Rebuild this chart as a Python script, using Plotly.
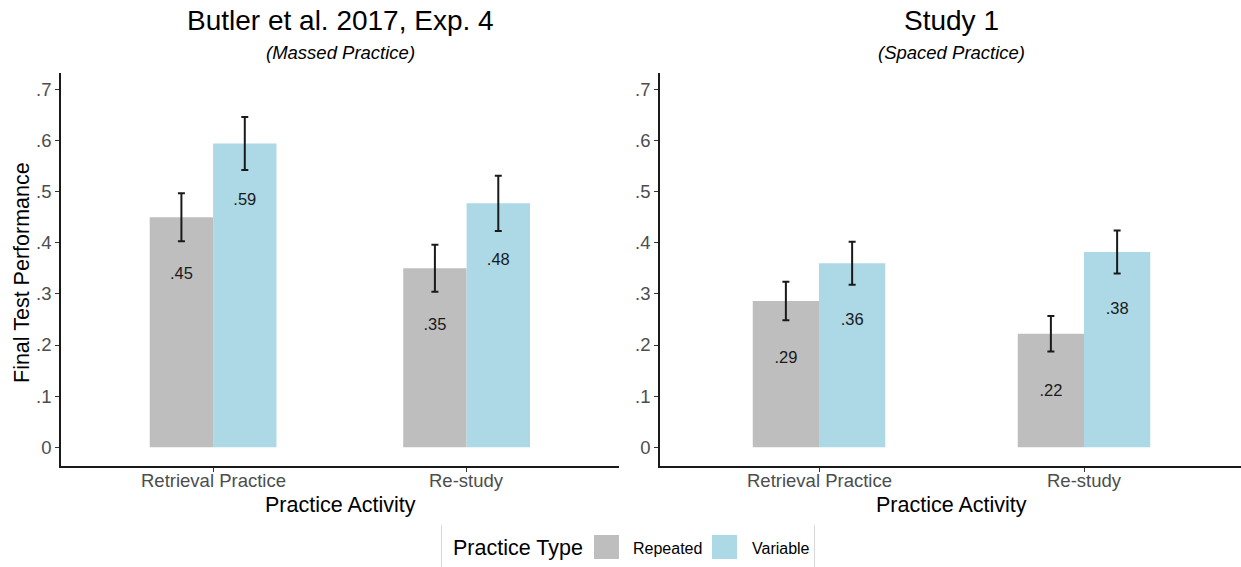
import plotly.graph_objects as go

# ---- data ----
activities = ["Retrieval Practice", "Re-study"]
practice_types = ["Repeated", "Variable"]

butler_repeated = [0.450, 0.350]
butler_variable = [0.594, 0.477]
butler_repeated_se = [0.047, 0.046]
butler_variable_se = [0.052, 0.054]

study1_repeated = [0.286, 0.222]
study1_variable = [0.360, 0.382]
study1_repeated_se = [0.0375, 0.0345]
study1_variable_se = [0.042, 0.042]

y_ticks = [0, 0.1, 0.2, 0.3, 0.4, 0.5, 0.6, 0.7]

# ---- styling ----
W, H = 1241, 567
FONT = "Liberation Sans, Arial, Helvetica, sans-serif"
COLORS = {"Repeated": "#bebebe", "Variable": "#add8e6"}
DODGE = 0.125
BAR_W = 0.25
LABEL_DROP = 0.113


def px_x(p):
    return p / W


def px_y(p):
    return 1 - p / H


def fmt(v):
    s = f"{v:.2f}" if v else "0"
    return s[1:] if s.startswith("0.") else s


def tick_fmt(v):
    return "0" if v == 0 else f"{v:.1f}".lstrip("0")


fig = go.Figure()

panels = [
    ("x", "y", butler_repeated, butler_variable, butler_repeated_se, butler_variable_se),
    ("x2", "y2", study1_repeated, study1_variable, study1_repeated_se, study1_variable_se),
]

for xa, ya, rep, var, rep_se, var_se in panels:
    for name, vals, se, off in [("Repeated", rep, rep_se, -DODGE), ("Variable", var, var_se, DODGE)]:
        xs = [i + 1 + off for i in range(len(activities))]
        fig.add_trace(go.Bar(
            x=xs, y=vals, width=BAR_W, xaxis=xa, yaxis=ya,
            marker=dict(color=COLORS[name], line=dict(width=0)),
            error_y=dict(type="data", array=se, color="#1a1a1a", thickness=2, width=3.5),
            showlegend=False, hoverinfo="skip",
        ))
        fig.add_trace(go.Scatter(
            x=xs, y=[v - LABEL_DROP for v in vals], xaxis=xa, yaxis=ya,
            mode="text", text=[fmt(v) for v in vals],
            textfont=dict(family=FONT, size=16.5, color="#1a1a1a"),
            textposition="middle center", showlegend=False, hoverinfo="skip",
        ))

axis_common = dict(
    showgrid=False, zeroline=False, showline=True, linecolor="#1a1a1a", linewidth=1.6,
    ticks="outside", ticklen=4, tickwidth=1.4, tickcolor="#333333",
    tickfont=dict(family=FONT, size=18.5, color="#4d4d4d"), fixedrange=True,
)

y_dom = [px_y(466), px_y(72.7)]
y_rng = [-0.0366, 0.7325]

fig.update_layout(
    width=W, height=H, autosize=False,
    margin=dict(l=0, r=0, t=0, b=0),
    paper_bgcolor="white", plot_bgcolor="white",
    barmode="overlay",
    xaxis=dict(domain=[px_x(61), px_x(618.7)], range=[0.4, 2.6], showticklabels=False,
               tickvals=[1, 2], anchor="y", **axis_common),
    yaxis=dict(domain=y_dom, range=y_rng, tickvals=y_ticks,
               ticktext=[tick_fmt(v) for v in y_ticks], anchor="x", **axis_common),
    xaxis2=dict(domain=[px_x(660), 1.0], range=[0.4, 0.4 + 581 / 265], showticklabels=False,
                tickvals=[1, 2], anchor="y2", **axis_common),
    yaxis2=dict(domain=y_dom, range=y_rng, tickvals=y_ticks,
                ticktext=[tick_fmt(v) for v in y_ticks], anchor="x2", **axis_common),
)

ann = []


def text(x, y, s, size, color="#000000", italic=False, angle=0, xanchor="center",
         xref="paper"):
    ann.append(dict(
        x=x if xref != "paper" else px_x(x), y=px_y(y), xref=xref, yref="paper",
        text=s, showarrow=False, xanchor=xanchor, yanchor="middle", textangle=angle,
        font=dict(family=FONT, size=size, color=color,
                  style="italic" if italic else "normal"),
    ))


# category labels under each panel's x axis
for xr in ["x", "x2"]:
    for i, cat in enumerate(activities):
        text(i + 1, 480, cat, 18.5, color="#4d4d4d", xref=xr)

# panel titles
text(340, 21, "Butler et al. 2017, Exp. 4", 28)
text(340, 53, "(Massed Practice)", 18.5, italic=True)
text(951.5, 21, "Study 1", 28)
text(951.5, 53, "(Spaced Practice)", 18.5, italic=True)

# axis titles
text(340, 505, "Practice Activity", 21.5)
text(951.5, 505, "Practice Activity", 21.5)
text(22, 273, "Final Test Performance", 21.5, angle=-90)

# legend
text(451, 548, "Practice Type", 21.5, xanchor="left")
text(631, 548, practice_types[0], 16, xanchor="left")
text(750, 548, practice_types[1], 16, xanchor="left")

shapes = [
    dict(type="rect", xref="paper", yref="paper",
         x0=px_x(594), x1=px_x(619), y0=px_y(559), y1=px_y(535),
         fillcolor=COLORS["Repeated"], line=dict(width=0)),
    dict(type="rect", xref="paper", yref="paper",
         x0=px_x(712), x1=px_x(737), y0=px_y(559), y1=px_y(535),
         fillcolor=COLORS["Variable"], line=dict(width=0)),
    dict(type="line", xref="paper", yref="paper",
         x0=px_x(441.5), x1=px_x(441.5), y0=px_y(567), y1=px_y(525),
         line=dict(color="#d9d9d9", width=1)),
    dict(type="line", xref="paper", yref="paper",
         x0=px_x(814.5), x1=px_x(814.5), y0=px_y(567), y1=px_y(525),
         line=dict(color="#d9d9d9", width=1)),
]

fig.update_layout(annotations=ann, shapes=shapes)

fig.write_html("out.html", config={"displayModeBar": False})
